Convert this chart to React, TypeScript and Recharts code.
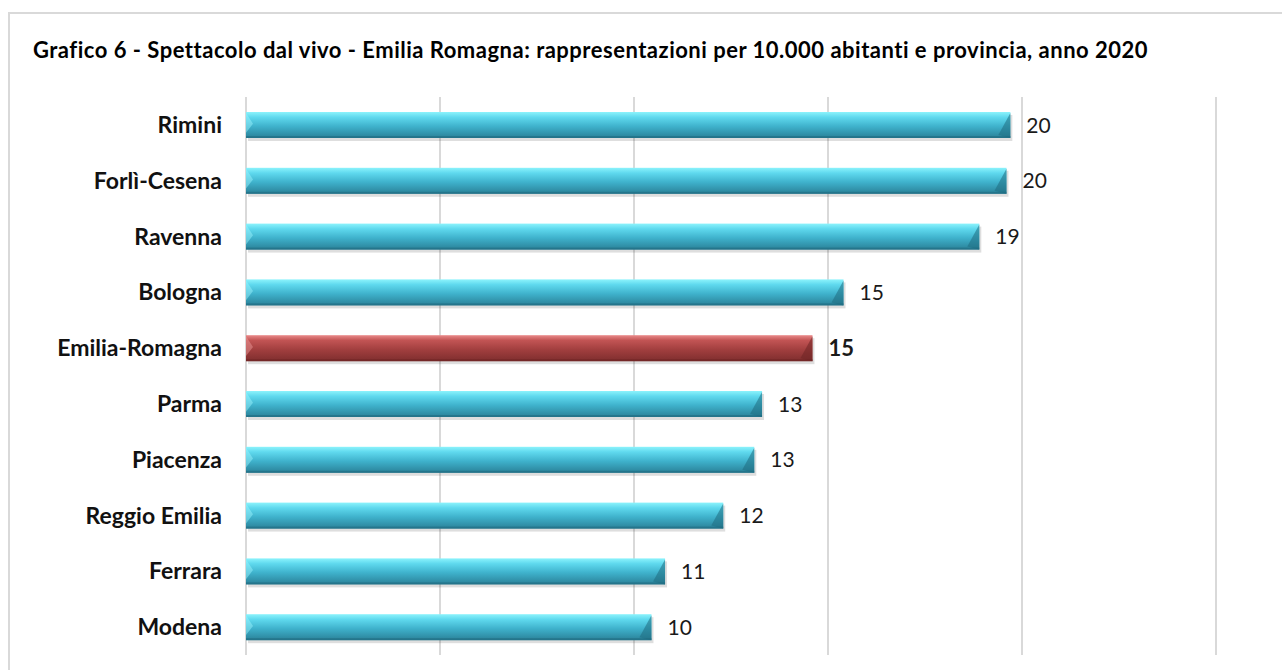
import { Bar, BarChart, CartesianGrid, LabelList, XAxis, YAxis } from "recharts";

const provinces = [
  "Rimini",
  "Forlì-Cesena",
  "Ravenna",
  "Bologna",
  "Emilia-Romagna",
  "Parma",
  "Piacenza",
  "Reggio Emilia",
  "Ferrara",
  "Modena",
];
const values = [19.7, 19.6, 18.9, 15.4, 14.6, 13.3, 13.1, 12.3, 10.8, 10.45];
const valueLabels = ["20", "20", "19", "15", "15", "13", "13", "12", "11", "10"];
const regionName = "Emilia-Romagna";
const xTicks = [0, 5, 10, 15, 20, 25];

const data = provinces.map((name, i) => ({
  name,
  value: values[i],
  label: valueLabels[i],
  region: name === regionName,
}));

const FONT = "Lato, 'Open Sans', sans-serif";

const BarShape = (props: any) => {
  const { x, y, width, height, payload } = props;
  const fill = payload.region ? "url(#gRed)" : "url(#gCyan)";
  const dark = payload.region ? "#6e2424" : "#1f6b80";
  const light = payload.region ? "#f0a0a0" : "#9ff6ff";
  return (
    <g>
      <rect x={x + 2} y={y + 3} width={width} height={height} fill="#000" opacity={0.13} />
      <rect x={x} y={y} width={width} height={height} fill={fill} />
      <polygon
        points={`${x},${y + 1} ${x + 7},${y + height * 0.45} ${x},${y + height * 0.8}`}
        fill={light}
        opacity={0.45}
      />
      <polygon
        points={`${x + width},${y + 1} ${x + width},${y + height} ${x + width - 12},${y + height - 3}`}
        fill={dark}
        opacity={0.55}
      />
      <rect x={x} y={y + height - 2} width={width} height={2} fill={dark} opacity={0.6} />
    </g>
  );
};

const ValueLabel = (props: any) => {
  const { x, y, width, height, index } = props;
  const d = data[index];
  return (
    <text
      x={x + width + 16}
      y={y + height / 2}
      dy="0.36em"
      fontFamily={FONT}
      fontSize={d.region ? 22 : 21}
      fontWeight={d.region ? 700 : 400}
      fill="#1a1a1a"
    >
      {d.label}
    </text>
  );
};

export default function App() {
  return (
    <div
      style={{
        position: "absolute",
        left: 0,
        top: 0,
        width: 1282,
        height: 670,
        overflow: "hidden",
        background: "#fff",
      }}
    >
      <div
        style={{
          position: "absolute",
          left: 8,
          top: 12,
          width: 1300,
          height: 700,
          border: "2px solid #d9d9d9",
        }}
      />
      <div
        style={{
          position: "absolute",
          left: 33,
          top: 36,
          fontFamily: FONT,
          fontWeight: 700,
          fontSize: 22,
          letterSpacing: 0.5,
          color: "#000",
          whiteSpace: "nowrap",
        }}
      >
        Grafico 6 - Spettacolo dal vivo - Emilia Romagna: rappresentazioni per 10.000 abitanti e provincia, anno 2020
      </div>
      <div style={{ position: "absolute", left: 0, top: 0 }}>
        <BarChart
          width={1282}
          height={670}
          data={data}
          layout="vertical"
          margin={{ top: 97, right: 66, bottom: 15, left: 0 }}
        >
          <defs>
            <linearGradient id="gCyan" x1="0" y1="0" x2="0" y2="1">
              <stop offset="0%" stopColor="#8cf3fc" />
              <stop offset="20%" stopColor="#5fd9ee" />
              <stop offset="55%" stopColor="#3fb2cc" />
              <stop offset="100%" stopColor="#2a8198" />
            </linearGradient>
            <linearGradient id="gRed" x1="0" y1="0" x2="0" y2="1">
              <stop offset="0%" stopColor="#ea8a8a" />
              <stop offset="20%" stopColor="#c25454" />
              <stop offset="55%" stopColor="#a23f3f" />
              <stop offset="100%" stopColor="#7e2e2e" />
            </linearGradient>
          </defs>
          <CartesianGrid horizontal={false} stroke="#d9d9d9" strokeWidth={2} />
          <XAxis type="number" domain={[0, 25]} ticks={xTicks} hide />
          <YAxis
            type="category"
            dataKey="name"
            width={246}
            axisLine={false}
            tickLine={false}
            tickSize={0}
            tickMargin={24}
            tick={{ fontFamily: FONT, fontSize: 23, fontWeight: 700, fill: "#111" }}
          />
          <Bar dataKey="value" barSize={26} shape={<BarShape />} isAnimationActive={false}>
            <LabelList dataKey="label" content={<ValueLabel />} />
          </Bar>
        </BarChart>
      </div>
    </div>
  );
}
